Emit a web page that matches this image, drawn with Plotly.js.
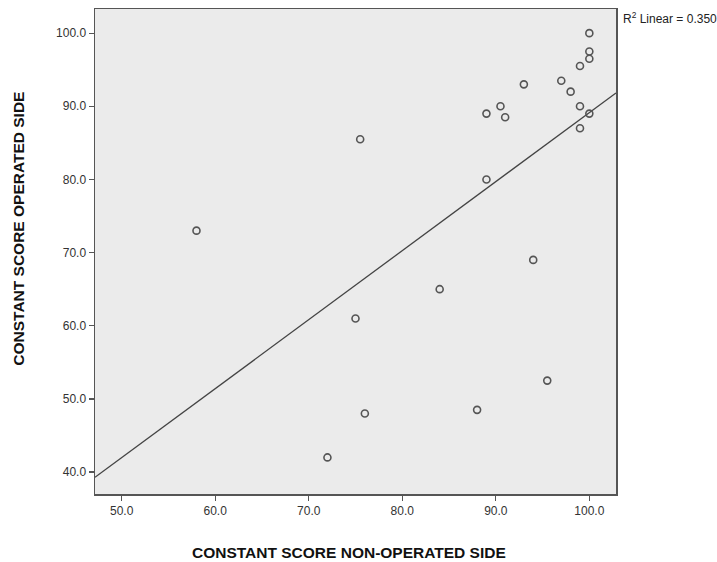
<!DOCTYPE html>
<html>
<head>
<meta charset="utf-8">
<script src="https://cdn.plot.ly/plotly-3.0.1.min.js"></script>
<style>html,body{margin:0;padding:0;background:#fff;}#chart{width:717px;height:562px;}</style>
</head>
<body>
<div id="chart"></div>
<script>
// Constant score, non-operated side (x) vs operated side (y)
const nonOperated = [100, 100, 100, 99, 93, 97, 98, 90.5, 89, 91, 99, 100, 99, 89, 75.5, 58, 84, 75, 76, 94, 95.5, 88, 72];
const operated    = [100, 97.5, 96.5, 95.5, 93, 93.5, 92, 90, 89, 88.5, 90, 89, 87, 80, 85.5, 73, 65, 61, 48, 69, 52.5, 48.5, 42];
const xTickVals = [50, 60, 70, 80, 90, 100];
const yTickVals = [40, 50, 60, 70, 80, 90, 100];
const rSquaredLabel = "0.350";
const xTitle = 'CONSTANT SCORE NON-OPERATED SIDE';
const yTitle = 'CONSTANT SCORE OPERATED SIDE';

const xRange = [47.15, 102.85];
const yRange = [37.0, 103.3];

// least-squares fit
const n = nonOperated.length;
const mx = nonOperated.reduce((a, b) => a + b, 0) / n;
const my = operated.reduce((a, b) => a + b, 0) / n;
let sxy = 0, sxx = 0;
for (let i = 0; i < n; i++) {
  sxy += (nonOperated[i] - mx) * (operated[i] - my);
  sxx += (nonOperated[i] - mx) ** 2;
}
const slope = sxy / sxx;
const intercept = my - slope * mx;
const fitX = xRange.slice();
const fitY = fitX.map(x => intercept + slope * x);

const FONT = 'Liberation Sans, Arial, sans-serif';
const axisCommon = {
  showline: true, mirror: true, linecolor: '#555', linewidth: 1.5,
  ticks: 'outside', ticklen: 5, tickwidth: 1.2, tickcolor: '#555',
  showgrid: false, zeroline: false, tickformat: '.1f',
  tickfont: {family: FONT, size: 12, color: '#333'}
};

const data = [
  {x: fitX, y: fitY, mode: 'lines', type: 'scatter',
   line: {color: '#444', width: 1.3}, hoverinfo: 'skip', showlegend: false},
  {x: nonOperated, y: operated, mode: 'markers', type: 'scatter',
   marker: {symbol: 'circle-open', size: 7, color: '#555', line: {width: 1.6, color: '#555'}},
   showlegend: false}
];

const titleFont = {family: FONT, size: 15.5, color: '#111', weight: 'bold'};

const layout = {
  width: 717, height: 562,
  margin: {l: 95, r: 101, t: 9, b: 68},
  paper_bgcolor: '#fff', plot_bgcolor: '#ebebeb',
  xaxis: Object.assign({}, axisCommon, {range: xRange, tickvals: xTickVals}),
  yaxis: Object.assign({}, axisCommon, {range: yRange, tickvals: yTickVals}),
  annotations: [
    {
      text: 'R<sup>2</sup> Linear = ' + rSquaredLabel,
      xref: 'paper', yref: 'paper', x: 1.0, y: 1.0, xshift: 5, yshift: 1,
      xanchor: 'left', yanchor: 'top', showarrow: false,
      font: {family: FONT, size: 12, color: '#222'}
    },
    {
      text: '<b>' + xTitle + '</b>',
      xref: 'paper', yref: 'paper', x: 0.4875, y: 0, yshift: -58.5,
      xanchor: 'center', yanchor: 'middle', showarrow: false, font: titleFont
    },
    {
      text: '<b>' + yTitle + '</b>', textangle: -90,
      xref: 'paper', yref: 'paper', x: 0, xshift: -76.5, y: 0.546,
      xanchor: 'center', yanchor: 'middle', showarrow: false, font: titleFont
    }
  ]
};

Plotly.newPlot('chart', data, layout, {displayModeBar: false, staticPlot: true});
</script>
</body>
</html>
